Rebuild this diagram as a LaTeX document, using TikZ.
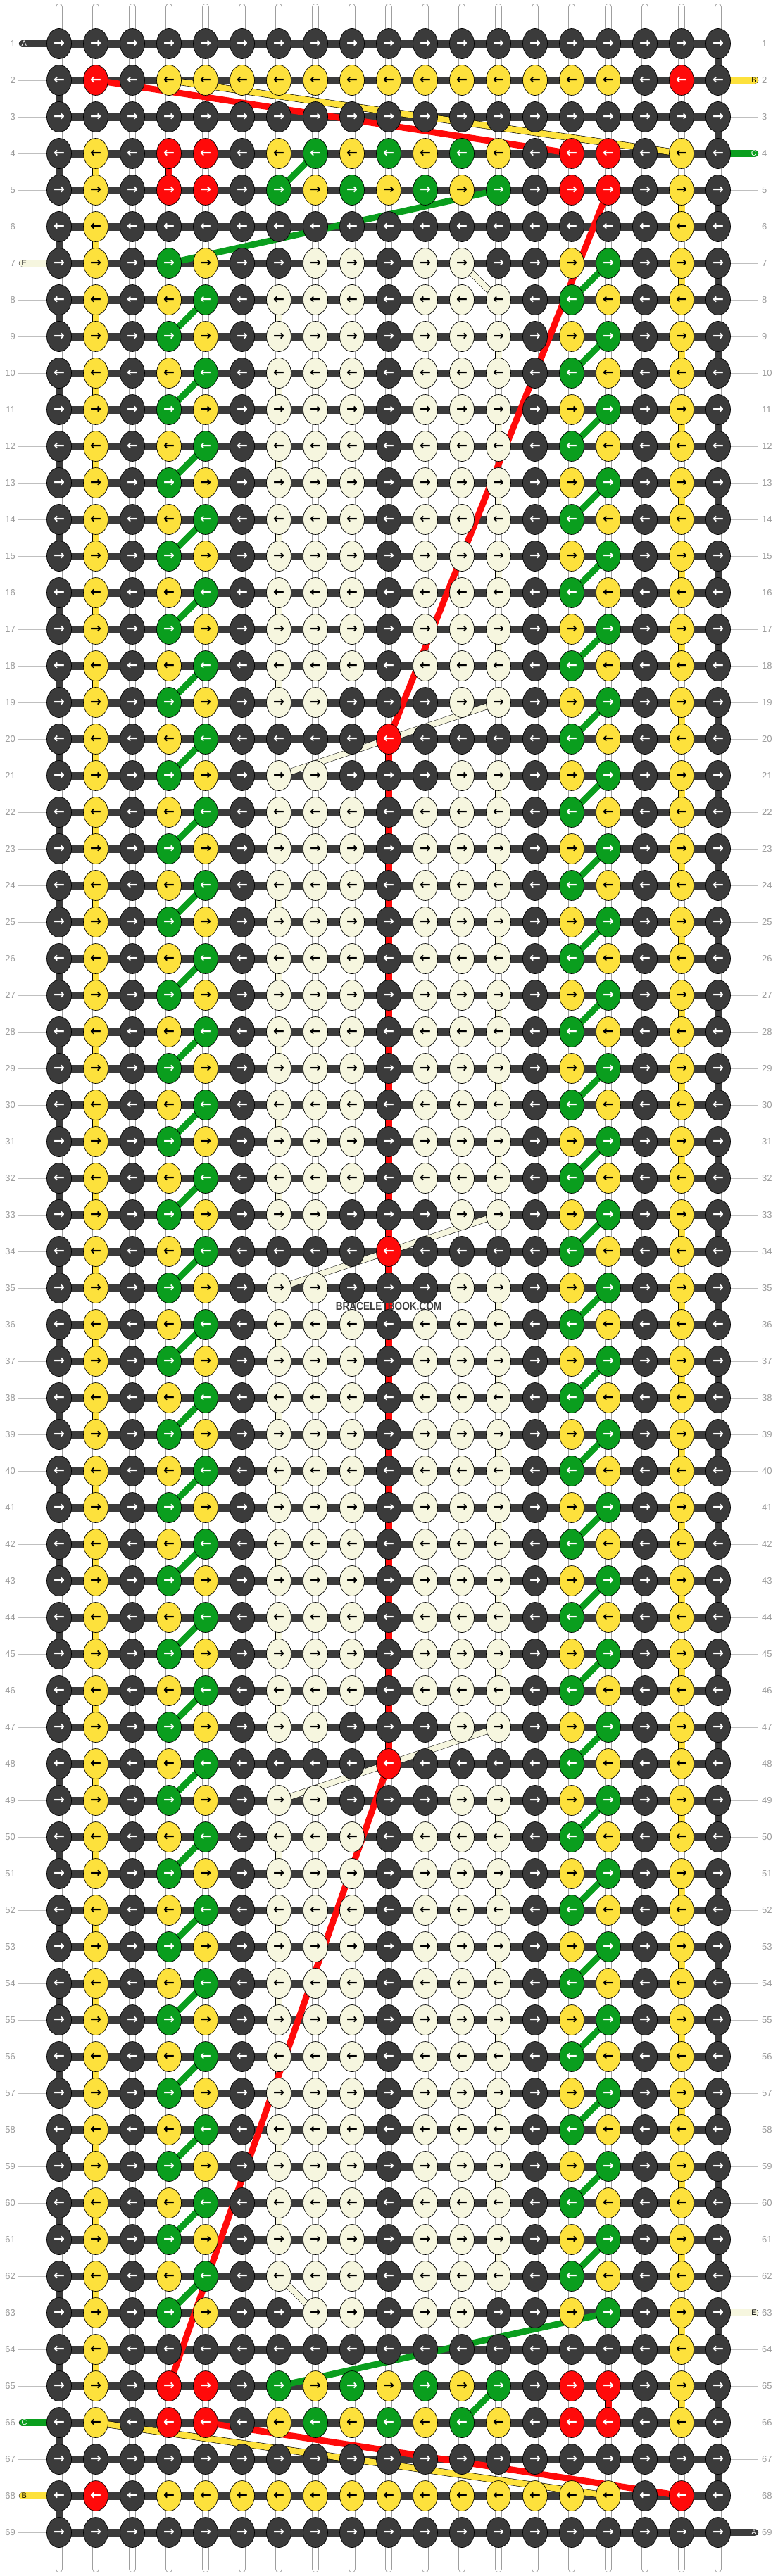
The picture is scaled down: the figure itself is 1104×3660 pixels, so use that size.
\documentclass[tikz,border=0pt]{standalone}
\usepackage{fontspec}
\setmainfont{Liberation Sans}
\newfontfamily\arrowfont{DejaVu Sans}
\usetikzlibrary{shapes.geometric}

\pgfdeclarelayer{under}
\pgfsetlayers{under,main}

\definecolor{kdark}{HTML}{3B3B3B}
\definecolor{kyellow}{HTML}{FDE13C}
\definecolor{kred}{HTML}{FF0A0A}
\definecolor{kgreen}{HTML}{0A9E1E}
\definecolor{kcream}{HTML}{F6F6DF}
\definecolor{rowgray}{HTML}{9A9A9A}

% knot colours of each row, columns 0 to 18
\def\rowAll{D,D,D,D,D,D,D,D,D,D,D,D,D,D,D,D,D,D,D}
\def\rowTwo{D,R,D,Y,Y,Y,Y,Y,Y,Y,Y,Y,Y,Y,Y,Y,D,R,D}
\def\rowFour{D,Y,D,R,R,D,Y,G,Y,G,Y,G,Y,D,R,R,D,Y,D}
\def\rowFive{D,Y,D,R,R,D,G,Y,G,Y,G,Y,G,D,R,R,D,Y,D}
\def\rowSix{D,Y,D,D,D,D,D,D,D,D,D,D,D,D,D,D,D,Y,D}
\def\rowSeven{D,Y,D,G,Y,D,D,C,C,D,C,C,D,D,Y,G,D,Y,D}
\def\rowEven{D,Y,D,Y,G,D,C,C,C,D,C,C,C,D,G,Y,D,Y,D}
\def\rowOdd{D,Y,D,G,Y,D,C,C,C,D,C,C,C,D,Y,G,D,Y,D}
\def\rowGap{D,Y,D,G,Y,D,C,C,D,D,D,C,C,D,Y,G,D,Y,D}
\def\rowHeart{D,Y,D,Y,G,D,D,D,D,R,D,D,D,D,G,Y,D,Y,D}

\newcommand\pickrow[1]{%
  \pgfmathtruncatemacro\rowfold{min(#1,70-#1)}%
  \pgfmathtruncatemacro\rowmod{mod(#1+8,14)}%
  \ifcase\rowfold\or\let\pat\rowAll\or\let\pat\rowTwo\or\let\pat\rowAll
  \or\let\pat\rowFour\or\let\pat\rowFive\or\let\pat\rowSix\or\let\pat\rowSeven
  \else
    \ifodd#1 \let\pat\rowOdd\else\let\pat\rowEven\fi
    \ifnum#1>18 \ifnum#1<50
      \ifnum\rowmod=0 \let\pat\rowHeart\fi
      \ifnum\rowmod=1 \let\pat\rowGap\fi
      \ifnum\rowmod=13 \let\pat\rowGap\fi
    \fi\fi
  \fi}

\tikzset{
  knot/.style={ellipse, draw=black, line width=0.7pt, minimum width=35pt, minimum height=43pt,
    inner sep=0pt, font=\arrowfont\bfseries\fontsize{19}{19}\selectfont},
  knotD/.style={knot, fill=kdark, text=white},
  knotY/.style={knot, fill=kyellow, text=black},
  knotR/.style={knot, fill=kred, text=white},
  knotG/.style={knot, fill=kgreen, text=white},
  knotC/.style={knot, fill=kcream, text=black},
  warp/.style={draw=gray!75, double=white, double distance=8.6pt, line width=0.7pt, line cap=round},
  bar/.style={draw=kdark, line width=11pt},
  edgeturn/.style={draw=kdark, line width=10pt},
  vseg/.style={draw=black, line width=0.5pt, double distance=9pt},
  threadtab/.style={draw=black, line width=0.5pt, double distance=9.5pt, line cap=round},
  carryR/.style={draw=kred, line width=9pt},
  carryG/.style={draw=kgreen, line width=9pt},
  carryY/.style={draw=black, line width=0.6pt, double=kyellow, double distance=8.5pt},
  carryC/.style={draw=black, line width=0.5pt, double=kcream, double distance=8pt},
  rownum/.style={font=\fontsize{13}{13}\selectfont, text=rowgray, inner sep=0pt},
  leader/.style={draw=gray!50, line width=1pt},
  tabtext/.style={font=\fontsize{11}{11}\selectfont, inner sep=0pt}
}

\begin{document}
\begin{tikzpicture}[x=1pt, y=-1pt]
\useasboundingbox (0,0) rectangle (1104,3660);

% Knots
\foreach \r in {1,...,69}{
  \pickrow{\r}
  \ifodd\r \def\ar{→}\else\def\ar{←}\fi
  \foreach \c [count=\i from 0] in \pat
    \node[knot\c] (k-\i-\r) at (84+52*\i, 10+52*\r) {\ar};
}

\begin{pgfonlayer}{under}
% Vertical strings
\foreach \i in {0,...,18}{
  \coordinate (top-\i) at (84+52*\i, 10);
  \coordinate (bot-\i) at (84+52*\i, 3650);
  \draw[warp] (top-\i) -- (bot-\i);
}

% Turns and coloured pieces between rows
\foreach \r [evaluate=\r as \rn using int(\r+1)] in {2,4,...,68}
  \draw[edgeturn] (k-0-\r.center) -- (k-0-\rn.center);
\foreach \r [evaluate=\r as \rn using int(\r+1)] in {1,3,...,67}
  \draw[edgeturn] (k-18-\r.center) -- (k-18-\rn.center);
\foreach \r [evaluate=\r as \rn using int(\r+1)] in {4,6,...,64}
  \draw[vseg, double=kyellow] (k-1-\r.center) -- (k-1-\rn.center);
\foreach \r [evaluate=\r as \rn using int(\r+1)] in {5,7,...,65}
  \draw[vseg, double=kyellow] (k-17-\r.center) -- (k-17-\rn.center);
\foreach \r [evaluate=\r as \rn using int(\r+1)] in {20,...,47}
  \draw[vseg, double=kred] (k-9-\r.center) -- (k-9-\rn.center);
\draw[vseg, double=kred] (k-3-4.center) -- (k-3-5.center);
\draw[vseg, double=kred] (k-15-65.center) -- (k-15-66.center);
\foreach \r [evaluate=\r as \rn using int(\r+1)] in {8,10,12,14,16,18,22,24,26,28,30,32,36,38,40,42,44,46,50,52,54,56,58,60}
  \draw[vseg, double=kcream] (k-6-\r.center) -- (k-6-\rn.center);
\foreach \r [evaluate=\r as \rn using int(\r+1)] in {9,11,13,15,17,21,23,25,27,29,31,35,37,39,41,43,45,49,51,53,55,57,59,61}
  \draw[vseg, double=kcream] (k-12-\r.center) -- (k-12-\rn.center);

% Horizontal threads
\foreach \r in {1,...,69}
  \draw[bar] (k-0-\r.center) -- (k-18-\r.center);

% Thread ends
\foreach \r/\clr in {1/kdark, 7/kcream, 66/kgreen, 68/kyellow}{
  \coordinate (endL-\r) at (32, 10+52*\r);
  \draw[threadtab, double=\clr] (endL-\r) -- (k-0-\r.center);
}
\foreach \r/\clr in {2/kyellow, 4/kgreen, 63/kcream, 69/kdark}{
  \coordinate (endR-\r) at (1072, 10+52*\r);
  \draw[threadtab, double=\clr] (endR-\r) -- (k-18-\r.center);
}

% Carried threads
\draw[carryR] (k-1-2.center) -- (k-14-4.center);
\draw[carryY] (k-3-2.center) -- (k-17-4.center);
\draw[carryG] (k-7-4.center) -- (k-6-5.center);
\draw[carryG] (k-12-5.center) -- (k-3-7.center);
\draw[carryR] (k-15-5.center) -- (k-9-20.center);
\draw[carryC] (k-11-7.center) -- (k-12-8.center);
\foreach \r [evaluate=\r as \rn using int(\r+1)] in {8,10,...,62}
  \draw[carryG] (k-4-\r.center) -- (k-3-\rn.center);
\foreach \r [evaluate=\r as \rn using int(\r+1)] in {7,9,...,61}
  \draw[carryG] (k-15-\r.center) -- (k-14-\rn.center);
\foreach \r [evaluate=\r as \rn using int(\r+2)] in {19,33,47}
  \draw[carryC] (k-12-\r.center) -- (k-6-\rn.center);
\draw[carryC] (k-6-62.center) -- (k-7-63.center);
\draw[carryR] (k-9-48.center) -- (k-3-65.center);
\draw[carryG] (k-15-63.center) -- (k-6-65.center);
\draw[carryG] (k-12-65.center) -- (k-11-66.center);
\draw[carryY] (k-1-66.center) -- (k-15-68.center);
\draw[carryR] (k-4-66.center) -- (k-17-68.center);
\end{pgfonlayer}

% Thread letters
\foreach \r/\txt/\lab in {1/white/A, 7/black/E, 66/white/C, 68/black/B}
  \node[tabtext, text=\txt, anchor=west] at (30.5, 10+52*\r) {\lab};
\foreach \r/\txt/\lab in {2/black/B, 4/white/C, 63/black/E, 69/white/A}
  \node[tabtext, text=\txt, anchor=east] at (1075, 10+52*\r) {\lab};

% Row numbers
\foreach \r in {1,...,69}{
  \node[rownum, anchor=east] (numL-\r) at (22, 10+52*\r) {\r};
  \node[rownum, anchor=west] (numR-\r) at (1082, 10+52*\r) {\r};
}
\foreach \r in {2,3,4,5,6,8,9,...,65,67,69}
  \draw[leader, shorten <=4pt] (numL-\r.east) -- (k-0-\r.west);
\foreach \r in {1,3,5,6,...,62,64,65,66,67,68}
  \draw[leader, shorten >=5pt] (k-18-\r.east) -- (numR-\r.west);

\node[font=\bfseries\fontsize{16}{16}\selectfont, text=kdark] (mark) at (552, 1856)
  {\scalebox{0.85}[1]{BRACELETBOOK.COM}};

\end{tikzpicture}
\end{document}
